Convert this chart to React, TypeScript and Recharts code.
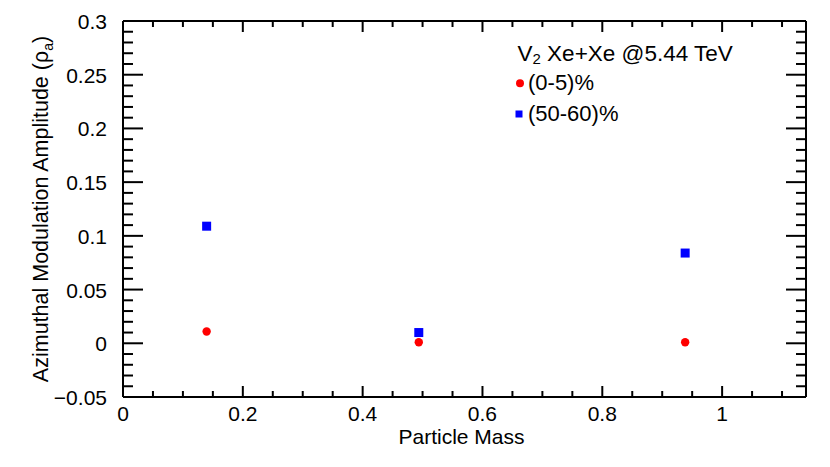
import { ScatterChart, Scatter, XAxis, YAxis, Legend, Label } from "recharts";

// pion, kaon, proton masses (GeV)
const particleMass = [0.1396, 0.4937, 0.9383];
const central05 = [0.011, 0.001, 0.001];
const peripheral5060 = [0.109, 0.01, 0.084];

const xMajorTicks = [0, 0.2, 0.4, 0.6, 0.8, 1];
const xTickLabels = ["0", "0.2", "0.4", "0.6", "0.8", "1"];
const yMajorTicks = [-0.05, 0, 0.05, 0.1, 0.15, 0.2, 0.25, 0.3];
const yTickLabels = ["\u22120.05", "0", "0.05", "0.1", "0.15", "0.2", "0.25", "0.3"];

const X_MAX = 1.14;
const FONT = '"Liberation Sans", Arial, Helvetica, sans-serif';

// minor tick positions: x every 0.05, y every 0.01
const xAllTicks: number[] = [];
for (let i = 0; i <= 22; i++) xAllTicks.push(+(i * 0.05).toFixed(2));
const yAllTicks: number[] = [];
for (let i = 0; i <= 35; i++) yAllTicks.push(+(-0.05 + i * 0.01).toFixed(2));

const centralData = particleMass.map((m, i) => ({ mass: m, v2: central05[i] }));
const peripheralData = particleMass.map((m, i) => ({ mass: m, v2: peripheral5060[i] }));

type Side = "left" | "right" | "top" | "bottom";

function makeTick(side: Side) {
  return (props: any) => {
    const { x, y, payload } = props;
    const vertical = side === "left" || side === "right";
    const majors = vertical ? yMajorTicks : xMajorTicks;
    const labels = vertical ? yTickLabels : xTickLabels;
    const idx = majors.findIndex((m) => Math.abs(m - payload.value) < 1e-6);
    const major = idx >= 0;
    const len = vertical ? (major ? 20 : 10) : major ? 11 : 6;
    let x2 = x;
    let y2 = y;
    if (side === "left") x2 = x + len;
    if (side === "right") x2 = x - len;
    if (side === "bottom") y2 = y - len;
    if (side === "top") y2 = y + len;
    return (
      <g>
        <line x1={x} y1={y} x2={x2} y2={y2} stroke="#000" strokeWidth={2} />
        {major && side === "left" && (
          <text x={x - 16} y={y + 8} textAnchor="end" fontSize={21} fontFamily={FONT} fill="#000">
            {labels[idx]}
          </text>
        )}
        {major && side === "bottom" && (
          <text x={x} y={y + 24} textAnchor="middle" fontSize={21} fontFamily={FONT} fill="#000">
            {labels[idx]}
          </text>
        )}
      </g>
    );
  };
}

const renderYTitle = (props: any) => {
  const vb = props.viewBox;
  const cx = vb.x + 47.5;
  const cy = vb.y + vb.height / 2;
  return (
    <text
      x={cx}
      y={cy}
      transform={`rotate(-90, ${cx}, ${cy})`}
      textAnchor="middle"
      fontSize={21.5}
      fontFamily={FONT}
      fill="#000"
    >
      Azimuthal Modulation Amplitude (ρ
      <tspan dy={5} fontSize={14}>a</tspan>
      <tspan dy={-5}>)</tspan>
    </text>
  );
};

const renderXTitle = (props: any) => {
  const vb = props.viewBox;
  return (
    <text
      x={vb.x + vb.width / 2 - 3}
      y={vb.y + 47}
      textAnchor="middle"
      fontSize={21}
      fontFamily={FONT}
      fill="#000"
    >
      Particle Mass
    </text>
  );
};

const renderLegend = (props: any) => {
  const payload = (props.payload ?? []).filter((p: any) => p.type !== "none");
  return (
    <svg width={300} height={100} style={{ display: "block" }} fontFamily={FONT}>
      <text x={12.5} y={31} fontSize={22.5} fill="#000">
        V<tspan dy={3} fontSize={15}>2</tspan>
        <tspan dy={-3}> Xe+Xe @5.44 TeV</tspan>
      </text>
      {payload.map((p: any, i: number) => {
        const cy = 53.3 + i * 30.7;
        return (
          <g key={i}>
            {i === 0 ? (
              <circle cx={15} cy={cy} r={4} fill={p.color} />
            ) : (
              <rect x={10.5} y={cy - 3.5} width={7} height={7} fill={p.color} />
            )}
            <text x={23} y={cy + 7} fontSize={22} fill="#000">
              {p.value}
            </text>
          </g>
        );
      })}
    </svg>
  );
};

const circleShape = (props: any) => <circle cx={props.cx} cy={props.cy} r={4.2} fill="#ff0000" />;
const squareShape = (props: any) => (
  <rect x={props.cx - 4.5} y={props.cy - 4.5} width={9} height={9} fill="#0000ff" />
);
const noShape = () => <g />;

export default function App() {
  return (
    <div style={{ position: "absolute", left: 0, top: 0, background: "#fff" }}>
      <ScatterChart width={830} height={467} margin={{ top: 20, right: 23, bottom: 0, left: 0 }}>
        <XAxis
          xAxisId="bottom"
          dataKey="mass"
          type="number"
          domain={[0, X_MAX]}
          ticks={xAllTicks}
          interval={0}
          height={70}
          tickSize={0}
          tickMargin={0}
          tickLine={false}
          tick={makeTick("bottom")}
          axisLine={{ stroke: "#000", strokeWidth: 2 }}
          allowDataOverflow
        >
          <Label content={renderXTitle} />
        </XAxis>
        <XAxis
          xAxisId="top"
          orientation="top"
          dataKey="mass"
          type="number"
          domain={[0, X_MAX]}
          ticks={xAllTicks}
          interval={0}
          height={1}
          tickSize={0}
          tickMargin={0}
          tickLine={false}
          tick={makeTick("top")}
          axisLine={{ stroke: "#000", strokeWidth: 2 }}
          allowDataOverflow
        />
        <YAxis
          yAxisId="left"
          dataKey="v2"
          type="number"
          domain={[-0.05, 0.3]}
          ticks={yAllTicks}
          interval={0}
          width={123}
          tickSize={0}
          tickMargin={0}
          tickLine={false}
          tick={makeTick("left")}
          axisLine={{ stroke: "#000", strokeWidth: 2 }}
          allowDataOverflow
        >
          <Label content={renderYTitle} />
        </YAxis>
        <YAxis
          yAxisId="right"
          orientation="right"
          dataKey="v2"
          type="number"
          domain={[-0.05, 0.3]}
          ticks={yAllTicks}
          interval={0}
          width={1}
          tickSize={0}
          tickMargin={0}
          tickLine={false}
          tick={makeTick("right")}
          axisLine={{ stroke: "#000", strokeWidth: 2 }}
          allowDataOverflow
        />
        <Legend
          layout="vertical"
          align="center"
          verticalAlign="middle"
          content={renderLegend}
          wrapperStyle={{ left: 505, top: 30, width: 300, height: 100 }}
        />
        {/* invisible series so the top and right frame axes get drawn */}
        <Scatter
          name="frame"
          data={peripheralData}
          xAxisId="top"
          yAxisId="right"
          shape={noShape}
          legendType="none"
          isAnimationActive={false}
        />
        <Scatter
          name="(0-5)%"
          data={centralData}
          xAxisId="bottom"
          yAxisId="left"
          fill="#ff0000"
          shape={circleShape}
          isAnimationActive={false}
        />
        <Scatter
          name="(50-60)%"
          data={peripheralData}
          xAxisId="bottom"
          yAxisId="left"
          fill="#0000ff"
          shape={squareShape}
          isAnimationActive={false}
        />
      </ScatterChart>
    </div>
  );
}
